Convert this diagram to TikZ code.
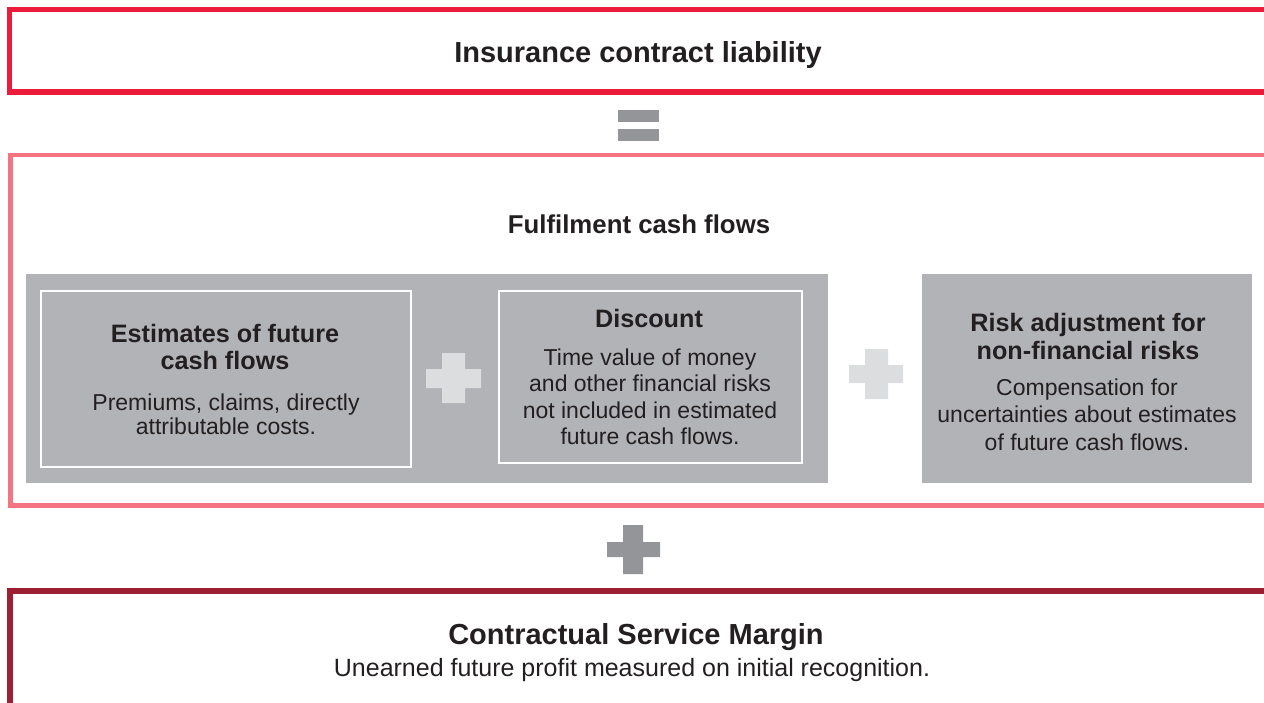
\documentclass[tikz,border=0pt]{standalone}
\usepackage{fontspec}
\setmainfont{Liberation Sans}
\definecolor{topred}{RGB}{237,27,58}
\definecolor{pinkred}{RGB}{244,116,130}
\definecolor{darkred}{RGB}{158,31,50}
\definecolor{panelgray}{RGB}{178,179,182}
\definecolor{symgray}{RGB}{147,149,152}
\definecolor{lightplus}{RGB}{220,221,222}
\definecolor{txt}{RGB}{35,31,32}
\tikzset{
  title/.style={font=\fontsize{29}{34}\selectfont\bfseries, text=txt, inner sep=0pt, anchor=base},
  head/.style={font=\fontsize{25.2}{30}\selectfont\bfseries, text=txt, inner sep=0pt, anchor=base},
  body/.style={font=\fontsize{23}{28}\selectfont, text=txt, inner sep=0pt, anchor=base},
  bodybig/.style={font=\fontsize{25}{30}\selectfont, text=txt, inner sep=0pt, anchor=base},
  panel/.style={fill=panelgray, draw=none},
  innerbox/.style={draw=white, line width=2pt},
}
\begin{document}
\begin{tikzpicture}[x=1pt,y=-1pt]
\useasboundingbox (0,0) rectangle (1264,702);
% outer frames
\draw[topred, line width=5.5pt] (1290,9.5) -- (9.5,9.5) -- (9.5,92) -- (1290,92);
\draw[pinkred, line width=4.5pt] (1290,155) -- (10.5,155) -- (10.5,505.5) -- (1290,505.5);
\draw[darkred, line width=6pt] (1290,591) -- (10,591) -- (10,720);
% equal sign
\fill[symgray] (618,110) rectangle (659,122);
\fill[symgray] (618,129) rectangle (659,141);
% panels
\fill[panel] (26,274) rectangle (828,483);
\fill[panel] (922,274) rectangle (1252,483);
\draw[innerbox] (41,291) rectangle (411,467);
\draw[innerbox] (499,291) rectangle (802,463);
% plus signs
\fill[lightplus] (442,353) -- (465,353) -- (465,369) -- (481,369) -- (481,388) -- (465,388) -- (465,403) -- (442,403) -- (442,388) -- (426,388) -- (426,369) -- (442,369) -- cycle;
\fill[lightplus] (865,349) -- (888,349) -- (888,365) -- (903,365) -- (903,383) -- (888,383) -- (888,399) -- (865,399) -- (865,383) -- (849,383) -- (849,365) -- (865,365) -- cycle;
\fill[symgray] (623,525) -- (643,525) -- (643,542) -- (660,542) -- (660,557) -- (643,557) -- (643,574) -- (623,574) -- (623,557) -- (607,557) -- (607,542) -- (623,542) -- cycle;
% texts
\node[title] (t1) at (638,62) {Insurance contract liability};
\node[head, font=\fontsize{25.8}{30}\selectfont\bfseries] (t2) at (639,233) {Fulfilment cash flows};
\node[head] (e1) at (225,342) {Estimates of future};
\node[head] (e2) at (225,369) {cash flows};
\node[body] (e3) at (226,410) {Premiums, claims, directly};
\node[body] (e4) at (226,434) {attributable costs.};
\node[head] (d1) at (649,327) {Discount};
\node[body] (d2) at (650,365) {Time value of money};
\node[body] (d3) at (650,391) {and other financial risks};
\node[body] (d4) at (650,418) {not included in estimated};
\node[body] (d5) at (650,444) {future cash flows.};
\node[head] (r1) at (1088,331) {Risk adjustment for};
\node[head] (r2) at (1088,359) {non-financial risks};
\node[body] (r3) at (1087,395) {Compensation for};
\node[body] (r4) at (1087,422) {uncertainties about estimates};
\node[body] (r5) at (1087,450) {of future cash flows.};
\node[title] (c1) at (636,644) {Contractual Service Margin};
\node[bodybig] (c2) at (632,676) {Unearned future profit measured on initial recognition.};
\end{tikzpicture}
\end{document}
